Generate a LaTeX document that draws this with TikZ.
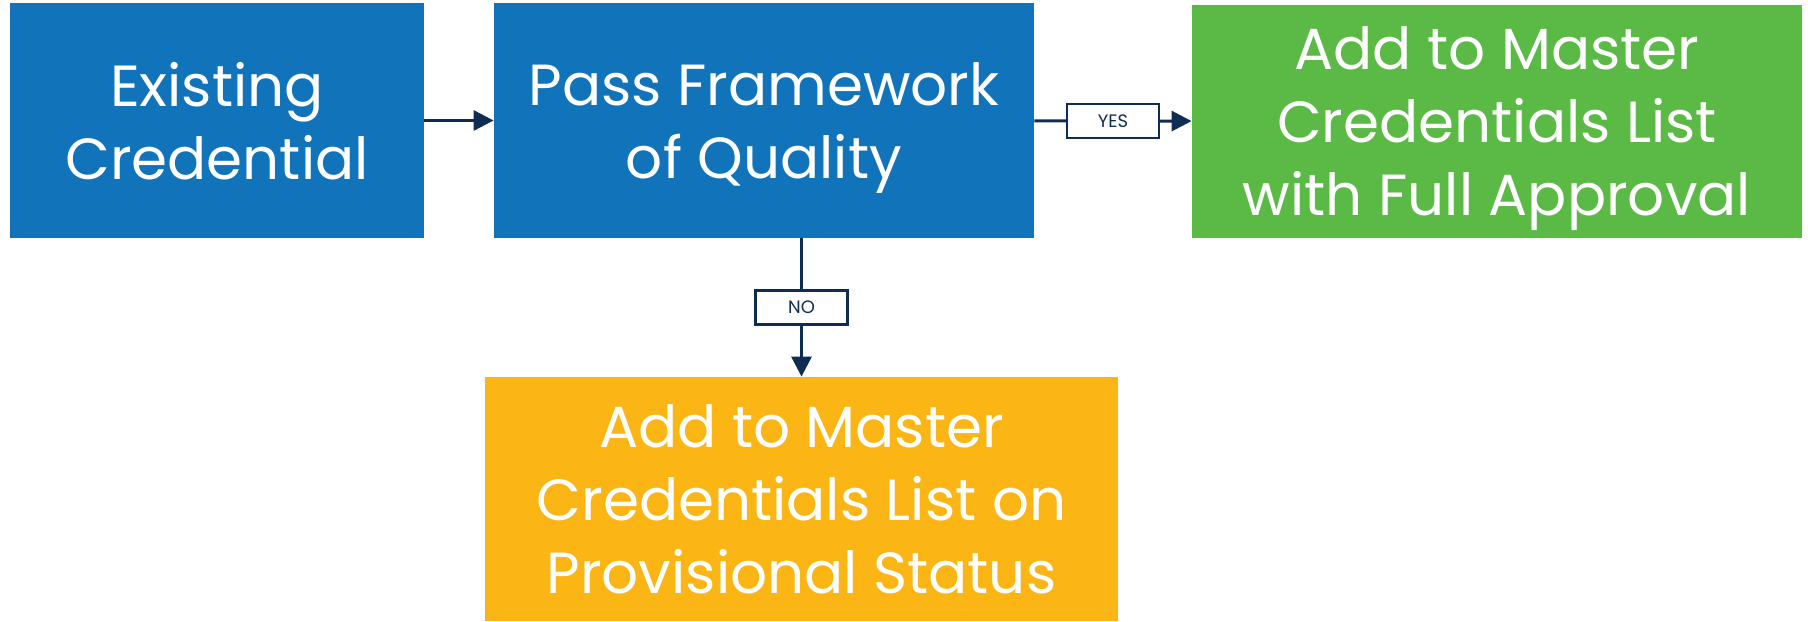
\documentclass[tikz,border=0pt]{standalone}
\usepackage{fontspec}
\setmainfont{Poppins}
\usetikzlibrary{arrows.meta}

\definecolor{credblue}{HTML}{1174BB}
\definecolor{credgreen}{HTML}{5BB946}
\definecolor{credyellow}{HTML}{FBB615}
\definecolor{credline}{HTML}{0F2D52}

\tikzset{
  stagebox/.style={fill=#1, text=white, align=center, inner sep=0pt, text depth=0pt,
    font=\fontsize{29}{36.5}\selectfont},
  flowline/.style={draw=credline, line width=1.5pt, -{Triangle[length=10pt,width=10pt]}},
  decision/.style={draw=credline, line width=1.2pt, fill=white, minimum width=46pt,
    minimum height=17pt, inner sep=0pt, text=credline, font=\fontsize{9}{9}\selectfont}
}

\begin{document}
\begin{tikzpicture}[x=1pt,y=1pt]
        \useasboundingbox (0,0) rectangle (904,-310.5); % page size
        \node[stagebox=credblue, minimum width=207pt, minimum height=117.5pt] (existing) at (108.5,-60.25)
        {Existing\\Credential}; % start
        \node[stagebox=credblue, minimum width=270pt, minimum height=117.5pt] (pass) at (382,-60.25)
        {Pass Framework\\of Quality}; % check
        \node[stagebox=credgreen, minimum width=305pt, minimum height=116.5pt] (full) at (748.5,-60.75)
        {Add to Master\\Credentials List\\with Full Approval}; % yes branch
        \node[stagebox=credyellow, minimum width=316.5pt, minimum height=122pt] (provisional) at (400.75,-249.5)
        {Add to Master\\Credentials List on\\Provisional Status}; % no branch
        \draw[flowline] (existing) -- (pass); % arrow
        \draw[flowline] (pass) -- node[decision] {YES} (full); % yes arrow
        \draw[flowline] (pass.south -| provisional.north) -- node[decision] {NO} (provisional); % no arrow
    \end{tikzpicture}
\end{document}
